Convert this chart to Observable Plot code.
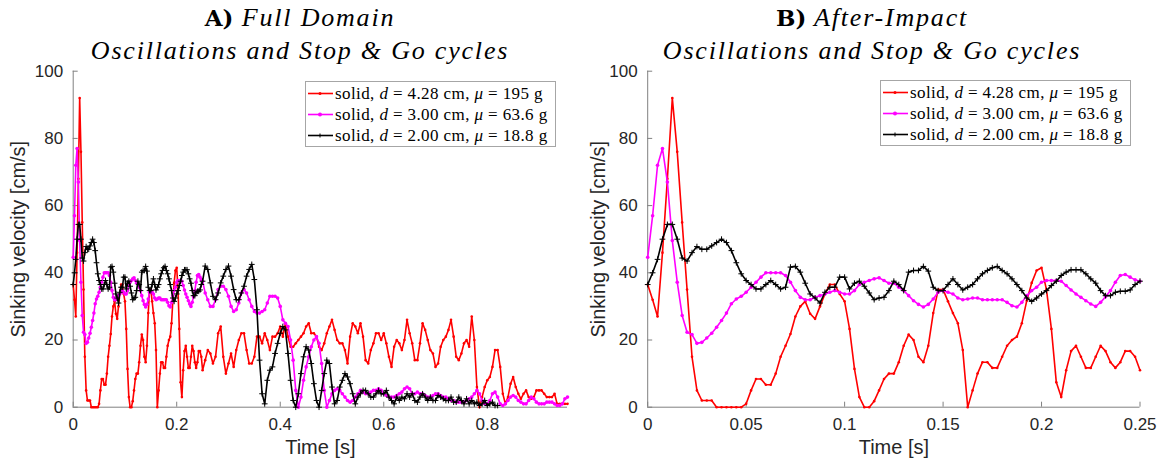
<!DOCTYPE html>
<html>
<head>
<meta charset="utf-8">
<script src="https://cdn.jsdelivr.net/npm/d3@7"></script>
<script src="https://cdn.jsdelivr.net/npm/@observablehq/plot@0.6"></script>
<style>
  body { margin: 0; background: #fff; }
  #fig { position: relative; width: 1167px; height: 468px; background: #fff; overflow: hidden; }
  .panel { position: absolute; top: 60px; }
  .title { position: absolute; top: 1px; width: 600px; text-align: center; font-family: "Liberation Serif", "Times New Roman", serif;
           font-size: 26px; line-height: 33px; color: #000; letter-spacing: 1.8px; font-style: italic; }
  .title b { font-family: "DejaVu Serif", serif; font-style: normal; font-weight: bold; letter-spacing: 0; font-size: 23px; }
  .legend { position: absolute; background: #fff; border: 1px solid #a6a6a6; box-sizing: border-box; padding: 1px 0 0 1px;
            font-family: "Liberation Serif", "Times New Roman", serif; font-size: 17px; color: #000; }
  .row { display: flex; align-items: center; height: 21px; white-space: nowrap; letter-spacing: 0.4px; }
  .row svg { flex: none; margin-right: 1px; }
</style>
</head>
<body>
<div id="fig"></div>
<script>
// Sampling: 400 fps for the first quarter second, then every 5 ms
const dtEarly = 0.0025;
const lateStart = 0.255;
const dtLate = 0.005;

// d = 4.28 cm sphere (red)
const redEarly = [36.5, 32, 27, 46, 68, 92, 76, 55, 35, 15, 5, 2, 2, 2, 0, 0, 0, 0, 0, 0,
  1, 5, 8.4, 8.4, 6.7, 6.7, 10, 15, 18.3, 21.8, 27, 30, 31.5, 27.8, 26.3, 30, 33.7, 36.5, 36.5, 33.7,
  31.5, 23.3, 11.4, 3, 0, 0, 1.8, 5, 8.4, 10, 10, 13.4, 18.3, 21.6, 20, 15, 13.4, 18.3, 28, 35,
  35, 31.5, 28, 25, 17, 0, 5, 10, 13.4, 13.4, 11.7, 11.7, 15, 18.3, 20, 21, 25, 31.7, 37, 40.7,
  41.5, 35, 23.3, 7.4, 3, 11, 16.7, 18.3, 15, 11.7, 11.7, 15, 18.3, 16.7, 13.4, 11.7, 13.4, 16.7, 16.7, 15,
  11];
const redLate = [14, 17, 16, 13, 15, 22, 24, 15, 10, 13,
  16, 12, 17, 20, 22, 22, 17, 13, 13, 15,
  21, 21, 19, 22, 20, 17, 21, 21, 22, 24,
  21, 25, 21, 18, 18, 19, 20, 21, 22, 24,
  25, 22, 22, 21, 18, 17, 19, 22, 24, 26,
  23, 20, 19, 19, 17, 13, 21, 25, 24, 22,
  25, 21, 14, 13, 17, 19, 22, 22, 20, 22,
  19, 15, 12, 18, 20, 19, 17, 20, 26, 22,
  19, 14, 14, 19, 25, 23, 20, 17, 16, 12,
  13, 18, 20, 21, 23, 26, 21, 15, 14, 16,
  19, 20, 18, 27, 20, 6, 0, 3, 6, 8,
  9, 12, 17, 17, 12, 4, 1, 3, 7, 9,
  6, 4, 2.5, 4, 5, 3, 2.5, 3, 5, 5,
  5, 4, 3, 3, 3, 4, 1, 1, 1, 1,
  1];

// d = 3.00 cm sphere (magenta)
const magentaEarly = [44.6, 57, 72, 77, 67, 49.6, 37.2, 27.3, 22.3, 21.6, 19, 19.3, 20.6, 22, 23.8, 25.8, 28, 30.8, 32.2, 33,
  34.2, 35.7, 37.2, 38.7, 40, 40, 40, 40, 39.2, 37.2, 34.7, 32.7, 32, 32, 32.7, 33.2, 33.7, 34.2, 34.7, 34.2,
  33.7, 33.7, 34.7, 36.5, 37.2, 37.7, 38.2, 38.5, 37.7, 36.9, 36.9, 35.7, 34.7, 33.2, 31.7, 30.6, 29.8, 30.6, 32.2, 34.2,
  34.7, 34.2, 33.7, 32.5, 32, 32.2, 32.5, 32.5, 32, 32, 32, 32, 32, 31.2, 30.2, 29.8, 31.2, 33.2, 34.7, 35.7,
  37.2, 37.7, 37.7, 37.7, 37.5, 36.2, 34.9, 33.7, 32.7, 31.7, 30.7, 30, 31.2, 32.9, 34.7, 37.2, 39.2, 39.5, 38.7, 37.9,
  37.5];
const magentaLate = [34, 32, 30, 30, 32, 35, 36, 36, 35, 33,
  30, 28.5, 29, 31, 34, 35, 34, 32, 30, 28.5,
  28, 28, 28.5, 29, 31, 33, 33, 33, 32.5, 30,
  26, 25, 24, 20, 14, 5, 0, 3, 8, 12,
  15, 18, 20, 21, 19, 13, 5, 0, 2, 4,
  5, 5.5, 5, 4, 3, 2, 1.5, 2, 3, 4,
  5, 4.5, 4, 4, 4.5, 5, 5, 5.5, 5, 4,
  3.5, 3, 3, 3, 3.5, 4, 4.5, 5.5, 6, 5.5,
  4, 4, 4.5, 4, 4, 3.5, 3, 3, 3.5, 4,
  4, 3.5, 3, 3, 2.5, 2, 2, 1.5, 1.5, 1.5,
  1.5, 2, 2.5, 3, 4, 5, 4, 2, 1, 1,
  2, 4, 4.5, 3, 1, 0.5, 1, 2, 3, 3.5,
  3, 2, 1.5, 1, 1, 2, 3, 2.5, 1.5, 1,
  1, 1, 1.5, 1.5, 1.5, 1, 0.5, 0.5, 1, 2.5,
  3];

// d = 2.00 cm sphere (black)
const blackEarly = [36.5, 40, 44, 50, 54.4, 54.4, 50, 44.4, 43.5, 46, 47.8, 47, 47, 48, 49, 50, 49, 46.6, 43, 39.7,
  37.7, 36.5, 35.2, 35.2, 36.5, 37.7, 36.5, 35.2, 35.7, 41.7, 41.9, 40.2, 36.9, 33.7, 32.5, 31, 34.2, 35.7, 35.7, 38.7,
  38.7, 35.2, 36.9, 37.5, 36, 34, 32, 32.5, 32.7, 34.7, 37.5, 36.5, 34.7, 40.2, 40.7, 40.7, 41.9, 40.5, 35.7, 34.7,
  34.7, 36.5, 38.2, 36.5, 34.9, 35.7, 36.5, 38.2, 39.7, 40.7, 41.5, 41.9, 40.7, 39.7, 38.2, 36.5, 34.7, 32.5, 31.5, 32.5,
  33.7, 34.7, 36.2, 37.5, 39.2, 40.2, 40.9, 40.9, 40.9, 39.7, 38.2, 36.9, 34.7, 33.2, 33.2, 34.2, 34.5, 34.5, 34.9, 36.5,
  37.5];
const blackLate = [42, 41, 37, 33, 32, 34, 37, 39, 41, 42,
  39, 35, 32, 32, 34, 36, 39, 41, 42.5, 38,
  29, 14, 4, 1, 8, 11, 12, 16, 19, 22,
  24, 23, 16, 8, 2, 0, 4, 10, 15, 18,
  17, 13, 7, 2, 0, 5, 10, 14, 13, 6,
  1, 2, 6, 8, 10, 9, 7, 4, 1, 3,
  4, 5, 5, 4, 3, 3, 4, 5, 4, 4,
  5, 3, 2, 1, 3, 2, 3, 2.5, 4, 3,
  4, 2, 1.5, 3, 4, 3, 2, 3, 2, 2,
  3.5, 3, 2.5, 2, 2, 3, 1.5, 1.5, 3, 2,
  1, 2.5, 1, 2, 1, 1.5, 0.5, 1, 2, 0.5,
  1, 1.5, 0.5, 0.5];

// Legend entries
const names = ["solid", "solid", "solid"];
const diameters = ["4.28", "3.00", "2.00"];
const masses = ["195", "63.6", "18.8"];
const colors = ["#ff0000", "#ff00ff", "#000000"];

// Axis ticks
const yTicks = [0, 20, 40, 60, 80, 100];
const xTicksFull = [0, 0.2, 0.4, 0.6, 0.8];
const xTicksImpact = [0, 0.05, 0.1, 0.15, 0.2, 0.25];

function series(early, late) {
  return [
    ...early.map((v, i) => ({t: +(i * dtEarly).toFixed(4), v})),
    ...late.map((v, k) => ({t: +(lateStart + k * dtLate).toFixed(4), v}))
  ];
}
const allSeries = [
  {data: series(redEarly, redLate), color: colors[0], symbol: "circle", r: 1.3, stroke: false},
  {data: series(magentaEarly, magentaLate), color: colors[1], symbol: "circle", r: 1.8, stroke: false},
  {data: series(blackEarly, blackLate), color: colors[2], symbol: "plus", r: 2.0, stroke: true}
];

const axisGray = "#808080";
const textGray = "#262626";
const height = 408, marginTop = 10.7, marginBottom = 61.3, tickLen = 5;

function panel({width, marginLeft, marginRight, xDomain, xTicks, tMax}) {
  const frameW = width - marginLeft - marginRight;
  const frameH = height - marginTop - marginBottom;
  const marks = [
    Plot.ruleY([0], {stroke: axisGray}),
    Plot.ruleX([0], {stroke: axisGray}),
    // inward tick marks along the bottom and left edges
    Plot.tickX(xTicks, {x: d => d, insetTop: frameH - tickLen, stroke: axisGray}),
    Plot.tickY(yTicks, {y: d => d, insetRight: frameW - tickLen, stroke: axisGray}),
    Plot.axisX({ticks: xTicks, tickSize: 0, tickPadding: 11, tickFormat: d => String(d), label: null, fill: textGray}),
    Plot.axisY({ticks: yTicks, tickSize: 0, tickPadding: 10, tickFormat: d => String(d), label: null, fill: textGray}),
    Plot.text(["Time [s]"], {frameAnchor: "bottom", lineAnchor: "middle", textAnchor: "middle", dy: 40, fontSize: 20, fill: textGray}),
    Plot.text(["Sinking velocity [cm/s]"], {frameAnchor: "left", textAnchor: "middle", lineAnchor: "middle", dx: -(marginLeft - 18), rotate: -90, fontSize: 20, fill: textGray})
  ];
  for (const s of allSeries) {
    const d = s.data.filter(p => p.t <= tMax + 1e-9);
    marks.push(Plot.line(d, {x: "t", y: "v", stroke: s.color, strokeWidth: 1.6}));
    marks.push(s.stroke
      ? Plot.dot(d, {x: "t", y: "v", symbol: s.symbol, r: s.r, stroke: s.color, strokeWidth: 1})
      : Plot.dot(d, {x: "t", y: "v", symbol: s.symbol, r: s.r, fill: s.color, stroke: "none"}));
  }
  return Plot.plot({
    width, height,
    marginLeft, marginRight, marginTop, marginBottom,
    x: {domain: xDomain},
    y: {domain: [0, 100]},
    style: {fontFamily: '"Liberation Sans", Arial, sans-serif', fontSize: "17px", color: textGray, background: "transparent", overflow: "visible"},
    marks
  });
}

function legend(left, top) {
  const div = document.createElement("div");
  div.className = "legend";
  div.style.left = left + "px";
  div.style.top = top + "px";
  div.style.width = "251px";
  div.style.height = "66px";
  colors.forEach((c, i) => {
    const row = document.createElement("div");
    row.className = "row";
    const marker = i === 2
      ? `<path d="M11 10.5h4M13 8.5v4" stroke="${c}" stroke-width="1"/>`
      : `<circle cx="13" cy="10.5" r="${i === 0 ? 1.5 : 2}" fill="${c}"/>`;
    row.innerHTML = `<svg width="27" height="21"><line x1="1" x2="26" y1="10.5" y2="10.5" stroke="${c}" stroke-width="1.6"/>${marker}</svg>` +
      `<span>${names[i]}, <i>d</i> = ${diameters[i]} cm, <i>μ</i> = ${masses[i]} g</span>`;
    div.appendChild(row);
  });
  return div;
}

function title(center, letter, heading) {
  const div = document.createElement("div");
  div.className = "title";
  div.style.left = (center - 300) + "px";
  div.innerHTML = `<b>${letter})</b> ${heading}<br>Oscillations and Stop &amp; Go cycles`;
  return div;
}

const fig = document.getElementById("fig");

const left = document.createElement("div");
left.className = "panel";
left.style.left = "0px";
left.appendChild(panel({width: 580, marginLeft: 72.7, marginRight: 13, xDomain: [0, 0.955], xTicks: xTicksFull, tMax: 1}));
fig.appendChild(left);

const right = document.createElement("div");
right.className = "panel";
right.style.left = "580px";
right.appendChild(panel({width: 587, marginLeft: 67.2, marginRight: 27.5, xDomain: [0, 0.25], xTicks: xTicksImpact, tMax: 0.25}));
fig.appendChild(right);

fig.appendChild(title(300, "A", "Full Domain"));
fig.appendChild(title(872, "B", "After-Impact"));
fig.appendChild(legend(305, 81));
fig.appendChild(legend(880, 80));
</script>
</body>
</html>
